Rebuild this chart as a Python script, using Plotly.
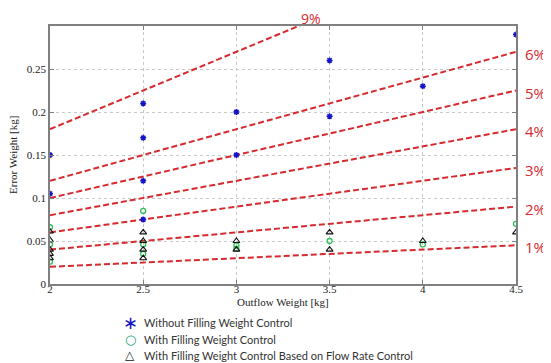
import plotly.graph_objects as go

# ---- data ----
blue_x = [2, 2, 2.5, 2.5, 2.5, 2.5, 3, 3, 3.5, 3.5, 4, 4.5]
blue_y = [0.15, 0.105, 0.21, 0.17, 0.12, 0.075, 0.2, 0.15, 0.26, 0.195, 0.23, 0.29]

green_x = [2, 2, 2, 2.5, 2.5, 2.5, 3, 3, 3.5, 4, 4.5]
green_y = [0.066, 0.046, 0.026, 0.085, 0.046, 0.035, 0.045, 0.041, 0.05, 0.046, 0.07]

tri_x = [2, 2, 2, 2, 2, 2.5, 2.5, 2.5, 2.5, 3, 3, 3.5, 3.5, 4, 4.5]
tri_y = [0.061, 0.051, 0.04, 0.035, 0.03, 0.06, 0.05, 0.04, 0.03, 0.05, 0.04, 0.06, 0.04, 0.05, 0.06]

pct_levels = [1, 2, 3, 4, 5, 6, 9]
line_x = [2, 4.5]

x_ticks = [2, 2.5, 3, 3.5, 4, 4.5]
x_tick_labels = ["2", "2.5", "3", "3.5", "4", "4.5"]
y_ticks = [0, 0.05, 0.1, 0.15, 0.2, 0.25]
y_tick_labels = ["0", "0.05", "0.1", "0.15", "0.2", "0.25"]

legend_names = ["Without Filling Weight Control",
                "With Filling Weight Control",
                "With Filling Weight Control Based on Flow Rate Control"]
legend_glyphs = ["\u2217", "\u25cb", "\u25b3"]

RED = "#d62a2f"
BLUE = "#1414c8"
GREEN = "#2fbf55"
BLACK = "#111111"
series_colors = [BLUE, "#20a060", BLACK]

# the page body adds an 8px offset, so the figure is drawn 8px smaller
OFF = 8
W, H = 551 - OFF, 363 - OFF
PL, PR, PT, PB = 50, 516, 26, 284          # plot box in window pixels
ML, MR, MT, MB = PL - OFF, 551 - PR, PT - OFF, 363 - PB
PW, PH = W - ML - MR, H - MT - MB


def px_to_paper(xp, yp):
    return (xp - PL) / PW, (PB - yp) / PH


fig = go.Figure()

for p in pct_levels:
    fig.add_trace(go.Scatter(
        x=line_x, y=[p / 100 * v for v in line_x], mode="lines",
        line=dict(color=RED, width=2, dash="6px,3px"), showlegend=False,
        hoverinfo="skip"))

fig.add_trace(go.Scatter(
    x=blue_x, y=blue_y, mode="markers", name=legend_names[0],
    marker=dict(symbol="asterisk-open", size=5, color=BLUE,
                line=dict(color=BLUE, width=1.5))))
fig.add_trace(go.Scatter(
    x=green_x, y=green_y, mode="markers", name=legend_names[1],
    marker=dict(symbol="circle-open", size=5, color=GREEN,
                line=dict(color=GREEN, width=1.3))))
fig.add_trace(go.Scatter(
    x=tri_x, y=tri_y, mode="markers", name=legend_names[2],
    marker=dict(symbol="triangle-up-open", size=6, color=BLACK,
                line=dict(color=BLACK, width=1.1))))

annos = []
for p in pct_levels:
    if p == 9:
        _, ly = px_to_paper(0, 19)
        annos.append(dict(x=3.40, y=ly, xref="x", yref="paper", text="9%",
                          showarrow=False, xanchor="center", yanchor="middle",
                          font=dict(color=RED, size=14, family="Open Sans")))
    else:
        annos.append(dict(x=4.5, y=p / 100 * 4.5, xref="x", yref="y", text=f"{p}%",
                          showarrow=False, xanchor="left", yanchor="middle", xshift=7, yshift=-2,
                          font=dict(color=RED, size=15, family="Open Sans")))

serif = dict(family="Liberation Serif, Times New Roman, serif", size=11, color="#222222")

# axis titles
tx, ty = px_to_paper(283, 302)
annos.append(dict(x=tx, y=ty, xref="paper", yref="paper", text="Outflow Weight [kg]",
                  showarrow=False, xanchor="center", yanchor="middle", font=serif))
tx, ty = px_to_paper(13, 155)
annos.append(dict(x=tx, y=ty, xref="paper", yref="paper", text="Error Weight [kg]",
                  showarrow=False, xanchor="center", yanchor="middle", textangle=-90, font=serif))

# manual legend below the plot
legend_rows_px = [322, 339, 355]
glyph_sizes = [18, 13, 12]
for name, glyph, col, ypx, gs in zip(legend_names, legend_glyphs, series_colors,
                                     legend_rows_px, glyph_sizes):
    gx, gy = px_to_paper(130, ypx)
    tx, ty = px_to_paper(142, ypx)
    annos.append(dict(x=gx, y=gy, xref="paper", yref="paper", text=glyph,
                      showarrow=False, xanchor="center", yanchor="middle",
                      font=dict(color=col, size=gs, family="DejaVu Sans")))
    annos.append(dict(x=tx, y=ty, xref="paper", yref="paper", text=name,
                      showarrow=False, xanchor="left", yanchor="middle",
                      font=dict(color="#333333", size=11, family="Lato")))

fig.update_layout(
    width=W, height=H, autosize=False,
    margin=dict(l=ML, r=MR, t=MT, b=MB),
    plot_bgcolor="white", paper_bgcolor="white",
    annotations=annos,
    showlegend=False,
    xaxis=dict(range=[2, 4.5], tickvals=x_ticks, ticktext=x_tick_labels,
               showgrid=True, gridcolor="#c8c8c8", griddash="dot", gridwidth=1,
               showline=True, linecolor="#808080", linewidth=1.5, mirror="ticks",
               ticks="inside", ticklen=4, tickcolor="#808080",
               tickfont=serif, zeroline=False, automargin=False,
               ticklabelstandoff=-6),
    yaxis=dict(range=[0, 0.3], tickvals=y_ticks, ticktext=y_tick_labels,
               showgrid=True, gridcolor="#c8c8c8", griddash="dot", gridwidth=1,
               showline=True, linecolor="#808080", linewidth=1.5, mirror="ticks",
               ticks="inside", ticklen=4, tickcolor="#808080",
               tickfont=serif, zeroline=False, automargin=False),
)

fig.write_html("out.html")
